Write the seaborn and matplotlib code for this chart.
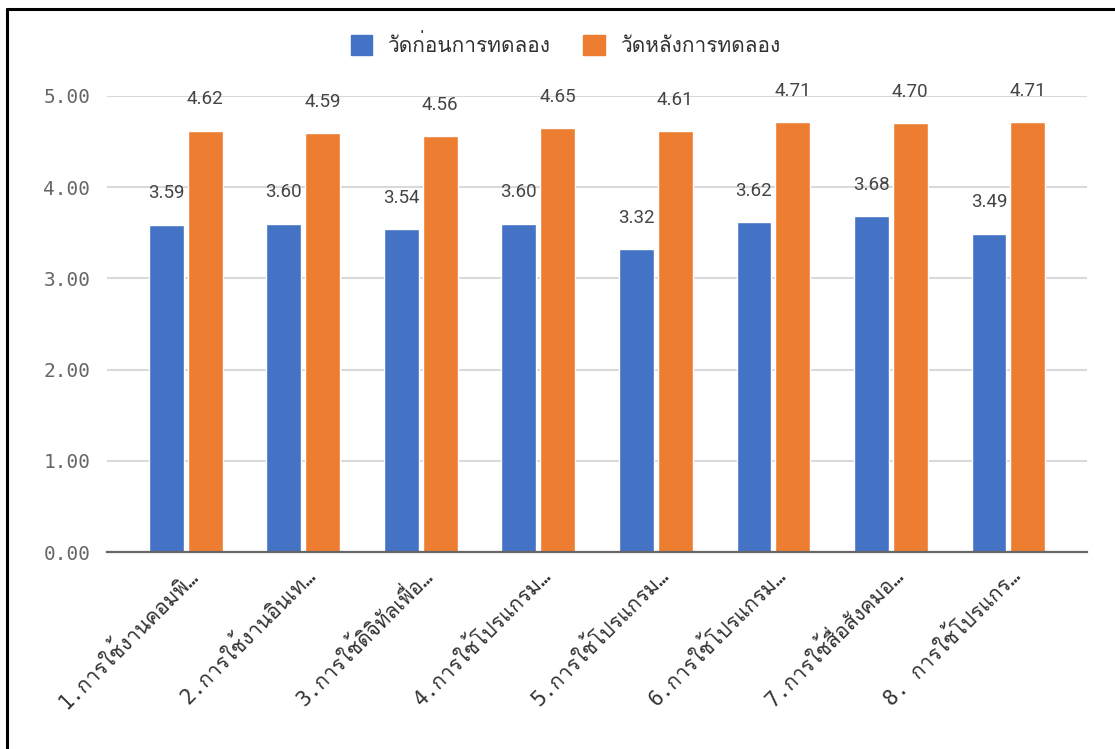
import pandas as pd
import seaborn as sns
import matplotlib.pyplot as plt
from matplotlib import font_manager
from matplotlib.lines import Line2D
from fontTools.ttLib import TTFont

categories = ['1.การใช้งานคอมพิ…', '2.การใช้งานอินเท…', '3.การใช้ดิจิทัลเพื่อ…',
              '4.การใช้โปรแกรม…', '5.การใช้โปรแกรม…', '6.การใช้โปรแกรม…',
              '7.การใช้สื่อสังคมอ…', '8. การใช้โปรแกร…']
series = ['วัดก่อนการทดลอง', 'วัดหลังการทดลอง']
before = [3.59, 3.60, 3.54, 3.60, 3.32, 3.62, 3.68, 3.49]
after = [4.62, 4.59, 4.56, 4.65, 4.61, 4.71, 4.70, 4.71]
yticks = [0, 1, 2, 3, 4, 5]
colors = ['#4472C4', '#ED7D31']


# หาฟอนต์ที่มีอักษรไทย
def thai_families():
    found = []
    for f in font_manager.fontManager.ttflist:
        try:
            tt = TTFont(f.fname, fontNumber=0, lazy=True)
            cmap = tt.getBestCmap() or {}
            if 0x0E01 in cmap and 0x0E49 in cmap and f.name not in found:
                found.append(f.name)
        except Exception:
            pass
    return found


thai = thai_families()
plain = [n for n in thai if 'Looped' not in n]
thai_font = (plain or thai or ['DejaVu Sans'])[0]

df = pd.DataFrame({
    'cat': categories * 2,
    'series': [series[0]] * 8 + [series[1]] * 8,
    'value': before + after,
})

sns.set_style('white')
plt.rcParams['font.family'] = [thai_font, 'DejaVu Sans']

fig = plt.figure(figsize=(11.15, 7.49), dpi=100)
ax = fig.add_axes([0.096, 0.263, 0.879, 0.609])

sns.barplot(data=df, x='cat', y='value', hue='series', palette=colors,
            saturation=1, width=0.66, gap=0.1, ax=ax, legend=False, zorder=3)

for c in ax.containers:
    ax.bar_label(c, fmt='%.2f', padding=16, fontsize=13.5, color='#444444',
                 family=['Roboto', 'DejaVu Sans'])

ax.set_ylim(0, 5)
ax.set_xlim(-0.67, 7.67)
ax.set_yticks(yticks)
ax.set_yticklabels([f'{v:.2f}' for v in yticks], family=['DejaVu Sans Mono'],
                   fontsize=14, color='#666666')
ax.tick_params(axis='y', length=0, pad=12)
ax.tick_params(axis='x', length=0, pad=8)
ax.set_xticks(range(len(categories)))
ax.set_xticklabels(categories, rotation=45, ha='right', va='top',
                   rotation_mode='anchor', fontsize=15, color='#333333',
                   family=['DejaVu Sans Mono', thai_font])
# เลื่อนป้ายแกน x ไปทางขวาเล็กน้อย
for lab in ax.get_xticklabels():
    lab.set_x(lab.get_position()[0] + 0.07)
ax.set_xlabel('')
ax.set_ylabel('')
ax.grid(axis='y', color='#d9d9d9', lw=1.5, zorder=0)
for s in ['top', 'right', 'left']:
    ax.spines[s].set_visible(False)
ax.spines['bottom'].set_color('#666666')
ax.spines['bottom'].set_linewidth(1.6)
ax.spines['bottom'].set_zorder(4)

handles = [plt.Rectangle((0, 0), 1, 1, color=c) for c in colors]
fig.legend(handles, series, loc='center', bbox_to_anchor=(0.507, 0.94), ncol=2,
           frameon=False, fontsize=15, handlelength=1.05, handleheight=1.1,
           columnspacing=1.6, handletextpad=0.7, labelcolor='#333333')

# กรอบดำด้านบนและด้านซ้าย
fig.add_artist(Line2D([0.0063, 1], [0.988, 0.988], color='black', lw=2.2,
                      transform=fig.transFigure))
fig.add_artist(Line2D([0.0063, 0.0063], [0, 0.988], color='black', lw=2.2,
                      transform=fig.transFigure))

fig.savefig('out.png', dpi=100)
